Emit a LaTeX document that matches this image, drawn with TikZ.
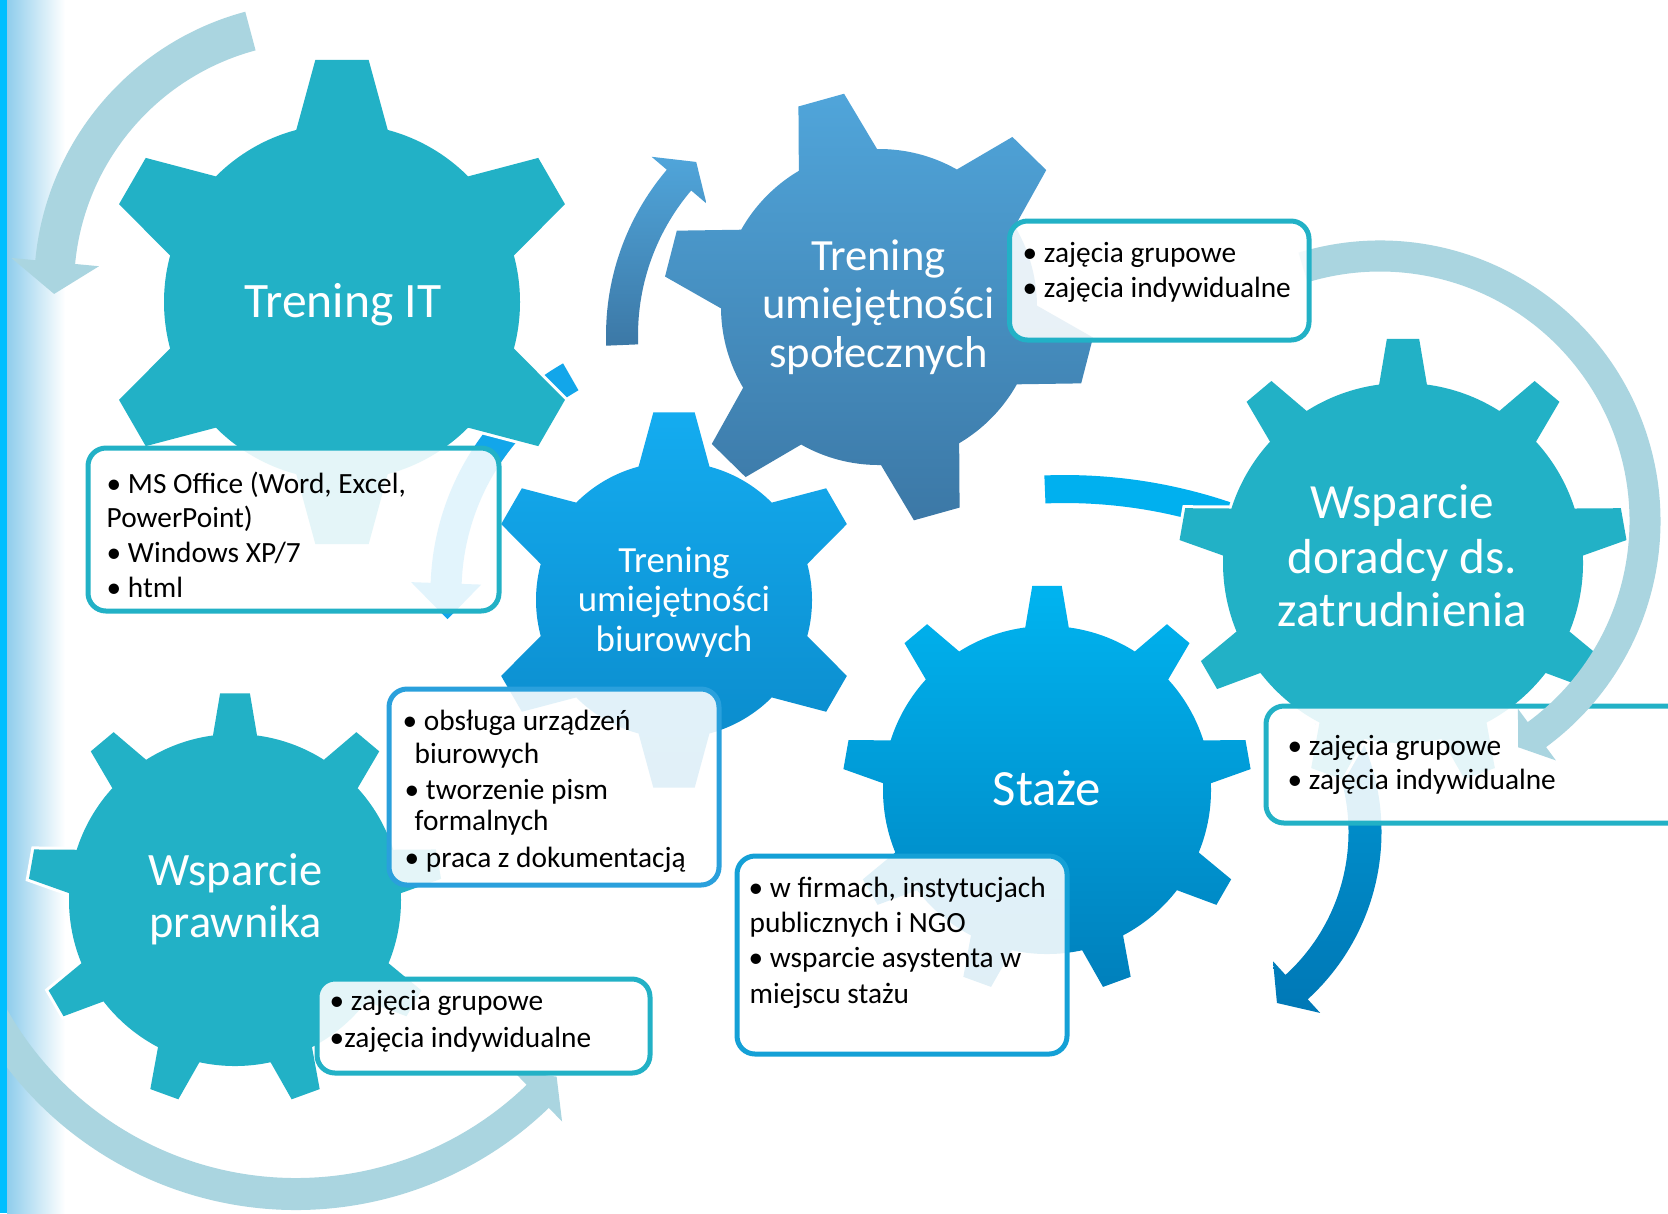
\documentclass[tikz,border=0pt]{standalone}
\usepackage{fontspec}
\setmainfont{Carlito}
\definecolor{teal1}{RGB}{34,177,198}
\definecolor{g2top}{RGB}{80,165,218}
\definecolor{g2bot}{RGB}{60,120,166}
\definecolor{g3top}{RGB}{20,172,240}
\definecolor{g3bot}{RGB}{10,136,200}
\definecolor{g5top}{RGB}{0,180,240}
\definecolor{g5bot}{RGB}{0,128,188}
\definecolor{pale}{RGB}{170,213,224}
\definecolor{arrC}{RGB}{18,166,234}
\definecolor{arrD}{RGB}{0,176,239}
\definecolor{arrEtop}{RGB}{0,152,212}
\definecolor{arrEbot}{RGB}{0,120,182}
\definecolor{border3}{RGB}{42,160,220}
\definecolor{border5}{RGB}{20,160,214}
\definecolor{stripc}{RGB}{0,191,255}
\definecolor{stripl}{RGB}{143,205,236}
% 6-tooth gear (body radius 1)
\newcommand\gearA[1]{(0,0) circle[radius=1]
  \foreach \k in {0,...,5}{ ({#1+60*\k-30.75}:0.698) -- ({#1+60*\k-6.29}:1.368)
    -- ({#1+60*\k+6.29}:1.368) -- ({#1+60*\k+30.75}:0.698) -- cycle }}
% 9-tooth gear (body radius 1)
\newcommand\gearB[1]{(0,0) circle[radius=1]
  \foreach \k in {0,...,8}{ ({#1+40*\k-18.35}:0.632) -- ({#1+40*\k-4.13}:1.248)
    -- ({#1+40*\k+4.13}:1.248) -- ({#1+40*\k+18.35}:0.632) -- cycle }}
% circular arrow: r_mid, half width, start, head base, tip, head half width
\newcommand\carrow[6]{({#3}:{#1+#2}) arc[start angle={#3}, end angle={#4}, radius={#1+#2}]
  -- ({#4}:{#1+#6}) -- ({#5}:{#1}) -- ({#4}:{#1-#6})
  -- ({#4}:{#1-#2}) arc[start angle={#4}, end angle={#3}, radius={#1-#2}] -- cycle}
% circular band without head
\newcommand\cband[4]{({#3}:{#1+#2}) arc[start angle={#3}, end angle={#4}, radius={#1+#2}]
  -- ({#4}:{#1-#2}) arc[start angle={#4}, end angle={#3}, radius={#1-#2}] -- cycle}
\begin{document}
\begin{tikzpicture}[x=0.1mm, y=-0.1mm,
  gearhalo/.style={preaction={draw=white, line width=0.6mm}},
  boxline/.style={line width=0.5mm, fill=white, fill opacity=0.88, rounded corners=1.8mm},
  gtxt/.style={text=white, inner sep=0pt, anchor=base},
  btxt/.style={text=black, inner sep=0pt, anchor=base west, font=\fontsize{8.35}{10}\selectfont},
  gfA/.style={gtxt, font=\fontsize{14.1}{16}\selectfont},
  gfS/.style={gtxt, font=\fontsize{12.7}{14}\selectfont},
  gfB/.style={gtxt, font=\fontsize{10.5}{12}\selectfont},
  gfD/.style={gtxt, font=\fontsize{14}{16}\selectfont},
  gfP/.style={gtxt, font=\fontsize{13.2}{15}\selectfont},
]
\useasboundingbox (0,0) rectangle (1668,1213);
\begin{scope}
\clip (0,0) rectangle (1668,1213);
\fill[white] (0,0) rectangle (1668,1213);
\shade[left color=stripl, right color=white] (7,0) rectangle (65,1213);

% ---------- arrows (behind gears) ----------
\begin{scope}[shift={(319,287)}]
  \fill[pale] \carrow{265}{20}{-105}{-174.6}{-181.5}{44};
\end{scope}
\begin{scope}[shift={(861,335)}]
  \shade[top color=g2top, bottom color=g2bot] \carrow{239}{16}{-182.4}{-139.6}{-133.6}{36};
\end{scope}
\begin{scope}[shift={(694,592)}]
  \fill[arrC] \carrow{248}{15.5}{-119.8}{-178}{-186.3}{35};
\end{scope}
\begin{scope}[shift={(1065,990)}]
  \fill[arrD] \cband{501}{14}{-92.3}{-68};
\end{scope}
\begin{scope}[shift={(1155,832)}]
  \shade[top color=arrEtop, bottom color=arrEbot] \carrow{210}{16.5}{-35}{47.6}{54.5}{35};
\end{scope}
\begin{scope}[shift={(296,846)}]
  \fill[pale] \carrow{348}{16}{-200}{-314}{-318.5}{35};
\end{scope}

% ---------- gears ----------
\begin{scope}[shift={(342,302)}, scale=178]
  \path[gearhalo, fill=teal1] \gearA{-90};
\end{scope}
\begin{scope}[shift={(879,307)}, scale=158]
  \path[gearhalo, top color=g2top, bottom color=g2bot] \gearA{-105.6};
\end{scope}
\begin{scope}[shift={(674,600)}, scale=138]
  \path[gearhalo, top color=g3top, bottom color=g3bot] \gearA{-90};
\end{scope}
\begin{scope}[shift={(235,900)}, scale=166]
  \path[gearhalo, fill=teal1] \gearB{-90};
\end{scope}
\begin{scope}[shift={(1047,790)}, scale=164]
  \path[gearhalo, top color=g5top, bottom color=g5bot] \gearB{-90};
\end{scope}
\begin{scope}[shift={(1403,563)}, scale=180]
  \path[gearhalo, fill=teal1] \gearB{-90};
\end{scope}

% ---------- boxes ----------
\path[boxline, draw=teal1] (88,448) rectangle (499,611);
\path[boxline, draw=border3] (389,689) rectangle (719,885);
\path[boxline, draw=teal1] (1266,706) rectangle (1720,823);
\path[boxline, draw=border5] (737,856) rectangle (1067,1054);
\path[boxline, draw=teal1] (317,979) rectangle (650,1073);
% big right arrow (over box 4, under box 2)
\begin{scope}[shift={(1380,521)}]
  \fill[pale] \carrow{265}{15.5}{-106.9}{53.7}{58.6}{32};
\end{scope}
\path[boxline, draw=teal1] (1009.5,221) rectangle (1309,340);

% ---------- gear labels ----------
\node[gfA] (tIT) at (343,317) {Trening IT};
\node[gfS] (tS1) at (878.5,270) {Trening};
\node[gfS] (tS2) at (878.5,318) {umiejętności};
\node[gfS] (tS3) at (878.5,367) {społecznych};
\node[gfB] (tB1) at (674,572) {Trening};
\node[gfB] (tB2) at (674,611) {umiejętności};
\node[gfB] (tB3) at (674,651) {biurowych};
\node[gfD] (tD1) at (1402.5,518) {Wsparcie};
\node[gfD] (tD2) at (1402.5,573) {doradcy ds.};
\node[gfD] (tD3) at (1402.5,626) {zatrudnienia};
\node[gtxt, font=\fontsize{14.45}{16}\selectfont] (tSt) at (1047,805) {Staże};
\node[gfP] (tP1) at (235.5,885) {Wsparcie};
\node[gfP] (tP2) at (235.5,937) {prawnika};

% ---------- box texts ----------
\node[btxt] (i1) at (106,493) {• MS Office (Word, Excel,};
\node[btxt] (i2) at (106,527) {PowerPoint)};
\node[btxt] (i3) at (106,562) {• Windows XP/7};
\node[btxt] (i4) at (106,597) {• html};

\node[btxt] (s1) at (1022,262) {• zajęcia grupowe};
\node[btxt] (s2) at (1022,297) {• zajęcia indywidualne};

\node[btxt] (o1) at (402,730) {• obsługa urządzeń};
\node[btxt] (o2) at (414,763) {biurowych};
\node[btxt] (o3) at (404,799) {• tworzenie pism};
\node[btxt] (o4) at (414,830) {formalnych};
\node[btxt] (o5) at (404,867) {• praca z dokumentacją};

\node[btxt] (d1) at (1287,755) {• zajęcia grupowe};
\node[btxt] (d2) at (1287,789) {• zajęcia indywidualne};

\node[btxt] (z1) at (748,897) {• w firmach, instytucjach};
\node[btxt] (z2) at (749,932) {publicznych i NGO};
\node[btxt] (z3) at (748,967) {• wsparcie asystenta w};
\node[btxt] (z4) at (749,1003) {miejscu stażu};

\node[btxt] (p1) at (329,1010) {• zajęcia grupowe};
\node[btxt] (p2) at (329,1047) {•zajęcia indywidualne};

\fill[stripc] (0,0) rectangle (7,1213);
\end{scope}
\end{tikzpicture}
\end{document}
